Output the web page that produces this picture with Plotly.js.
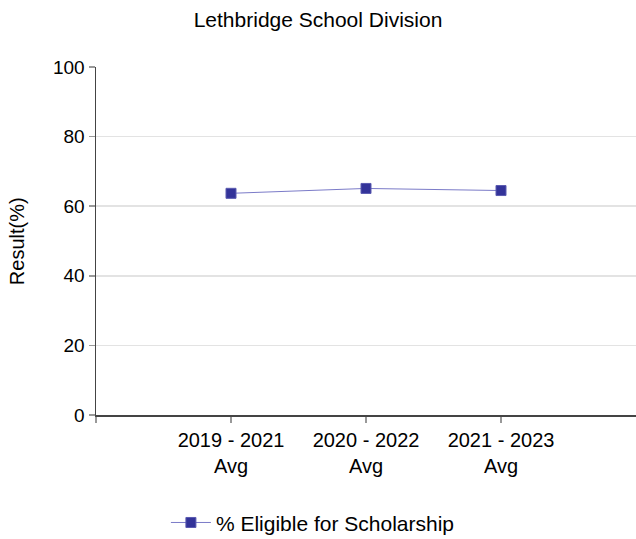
<!DOCTYPE html>
<html><head><meta charset="utf-8">
<script src="https://cdn.plot.ly/plotly-3.0.1.min.js"></script>
<style>html,body{margin:0;padding:0;background:#fff}#c{width:636px;height:539px}</style>
</head><body><div id="c"></div>
<script>
const categories = ["2019 - 2021<br>Avg", "2020 - 2022<br>Avg", "2021 - 2023<br>Avg"];
const seriesName = "% Eligible for Scholarship";
const values = [63.7, 65.1, 64.5];
const yTicks = [0, 20, 40, 60, 80, 100];
const yTitle = 'Result(%)';

const xIdx = categories.map((_, i) => i);
const trace = {
  x: xIdx, y: values, name: seriesName, type: 'scatter', mode: 'lines+markers',
  line: {color: '#7b7bc8', width: 1},
  marker: {symbol: 'square', size: 10, color: '#333399', line: {color: '#5a5ab0', width: 1}},
  showlegend: true
};
const layout = {
  width: 636, height: 539,
  margin: {l: 96, r: 0, t: 67, b: 124},
  paper_bgcolor: '#fff', plot_bgcolor: '#fff',
  font: {family: 'Liberation Sans, Arial, sans-serif', color: '#000'},
  title: {text: 'Lethbridge School Division', x: 0.5, xanchor: 'center', y: 0.963, yanchor: 'middle', font: {size: 21, color: '#000'}},
  xaxis: {
    range: [-1, 3], tickvals: [-1].concat(xIdx), ticktext: [''].concat(categories),
    showgrid: false, zeroline: false, showline: true, linecolor: '#444', linewidth: 1.5,
    ticks: 'outside', ticklen: 6, tickcolor: '#999', tickwidth: 1.5,
    tickfont: {size: 20, color: '#000'}, fixedrange: true
  },
  yaxis: {
    range: [0, 100], tickvals: yTicks, showgrid: true, gridcolor: '#e3e3e3', gridwidth: 1.5,
    zeroline: false, showline: true, linecolor: '#444', linewidth: 1.5,
    ticks: 'outside', ticklen: 6, tickcolor: '#999', tickwidth: 1.5,
    tickfont: {size: 19, color: '#000'}, automargin: false
  },
  annotations: [{
    text: yTitle, textangle: -90, xref: 'paper', yref: 'paper',
    x: -0.146, y: 0.5, xanchor: 'center', yanchor: 'middle', showarrow: false,
    font: {size: 20, color: '#000'}
  }],
  legend: {orientation: 'h', xref: 'container', yref: 'container', x: 0.492, xanchor: 'center', y: 0.03, yanchor: 'middle', font: {size: 21, color: '#000'}, itemwidth: 40}
};
Plotly.newPlot('c', [trace], layout, {displayModeBar: false, staticPlot: true});
</script></body></html>
